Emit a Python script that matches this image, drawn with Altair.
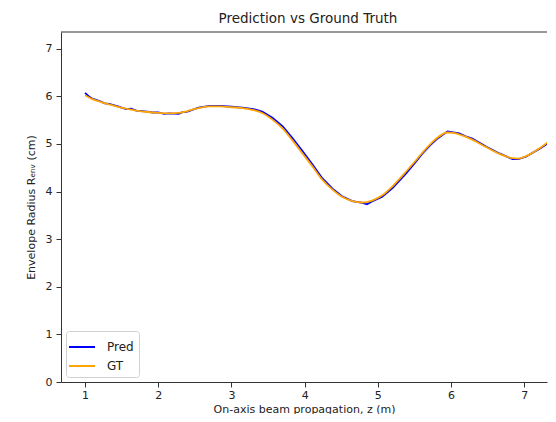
import altair as alt
import pandas as pd

# Ground truth envelope radius (cm) vs z (m)
z_gt = [1.00, 1.10, 1.20, 1.33, 1.45, 1.56, 1.70, 1.85, 2.00, 2.15, 2.28, 2.40,
        2.55, 2.70, 2.85, 3.00, 3.15, 3.30, 3.42, 3.56, 3.70, 3.83, 3.97, 4.11,
        4.24, 4.38, 4.51, 4.65, 4.79, 4.92, 5.06, 5.20, 5.38, 5.50, 5.61, 5.72,
        5.82, 5.95, 6.03, 6.11, 6.29, 6.47, 6.66, 6.84, 6.92, 7.02, 7.20, 7.35, 7.45]
r_gt = [6.02, 5.94, 5.89, 5.83, 5.78, 5.74, 5.70, 5.67, 5.65, 5.64, 5.65, 5.69,
        5.75, 5.79, 5.79, 5.77, 5.75, 5.71, 5.65, 5.51, 5.32, 5.08, 4.80, 4.52,
        4.25, 4.04, 3.89, 3.80, 3.77, 3.81, 3.92, 4.11, 4.41, 4.62, 4.82, 5.00,
        5.14, 5.24, 5.23, 5.20, 5.09, 4.94, 4.79, 4.70, 4.69, 4.74, 4.90, 5.07, 5.20]

# Model prediction (slightly noisy)
z_pred = [1.00, 1.05, 1.10, 1.20, 1.27, 1.33, 1.45, 1.56, 1.63, 1.70, 1.85, 1.92,
          2.00, 2.08, 2.15, 2.28, 2.34, 2.40, 2.55, 2.70, 2.85, 3.00, 3.15, 3.30,
          3.42, 3.56, 3.70, 3.83, 3.97, 4.11, 4.24, 4.38, 4.51, 4.65, 4.79, 4.85,
          4.92, 5.06, 5.20, 5.38, 5.50, 5.61, 5.72, 5.82, 5.95, 6.03, 6.11, 6.20,
          6.29, 6.47, 6.66, 6.84, 6.92, 7.02, 7.20, 7.35, 7.45]
r_pred = [6.07, 6.00, 5.95, 5.90, 5.85, 5.84, 5.79, 5.73, 5.74, 5.70, 5.68, 5.66,
          5.66, 5.63, 5.64, 5.63, 5.67, 5.68, 5.76, 5.80, 5.80, 5.78, 5.76, 5.73,
          5.68, 5.55, 5.37, 5.13, 4.85, 4.56, 4.28, 4.06, 3.90, 3.80, 3.76, 3.73,
          3.79, 3.89, 4.07, 4.37, 4.59, 4.80, 4.98, 5.12, 5.26, 5.24, 5.22, 5.16,
          5.11, 4.95, 4.80, 4.68, 4.68, 4.73, 4.89, 5.04, 5.18]

df_gt = pd.DataFrame({"z": z_gt, "r": r_gt, "series": "GT"})
df_pred = pd.DataFrame({"z": z_pred, "r": r_pred, "series": "Pred"})

series_names = ["Pred", "GT"]
series_colors = ["#0000ff", "#ffa500"]

x_enc = alt.X("z:Q", scale=alt.Scale(domain=[0.672, 7.31], nice=False, zero=False),
              axis=alt.Axis(values=[1, 2, 3, 4, 5, 6, 7], format="d",
                            title="On-axis beam propagation, z (m)"))
y_enc = alt.Y("r:Q", scale=alt.Scale(domain=[0, 7.35], nice=False),
              axis=alt.Axis(values=[0, 1, 2, 3, 4, 5, 6, 7], format="d",
                            title="Envelope Radius Rₑₙᵥ (cm)"))
color_enc = alt.Color("series:N",
                      scale=alt.Scale(domain=series_names, range=series_colors),
                      legend=alt.Legend(title=None, orient="bottom-left", offset=5,
                                        symbolType="M-1.3,0H1.3", symbolSize=400,
                                        symbolStrokeWidth=2, labelFontSize=12,
                                        labelFont="DejaVu Sans", labelColor="#222",
                                        fillColor="white", strokeColor="#d0d0d0",
                                        cornerRadius=3, padding=5, rowPadding=2,
                                        labelOffset=14))

pred_line = alt.Chart(df_pred).mark_line(strokeWidth=1.8, clip=True).encode(
    x=x_enc, y=y_enc, color=color_enc)
gt_line = alt.Chart(df_gt).mark_line(strokeWidth=1.8, interpolate="monotone", clip=True).encode(
    x=x_enc, y=y_enc, color=color_enc)

top_border = alt.Chart(pd.DataFrame({"a": [0]})).mark_rule(color="#333", strokeWidth=1).encode(
    y=alt.value(0), x=alt.value(0), x2=alt.value({"expr": "width"}))

chart = alt.layer(pred_line, gt_line, top_border).properties(
    width=540, height=406,
    title=alt.TitleParams("Prediction vs Ground Truth", fontSize=13.5, font="DejaVu Sans",
                          fontWeight="normal", color="#222", offset=6, dx=4),
    autosize=alt.AutoSizeParams(type="fit", contains="padding"),
    padding={"left": 17, "top": 4, "right": 0, "bottom": 0},
).configure_view(stroke=None).configure_axis(
    grid=False, domainColor="#333", domainWidth=1, tickColor="#333", tickSize=5,
    labelFont="DejaVu Sans", labelFontSize=11, labelColor="#222", labelPadding=3,
    titleFont="DejaVu Sans", titleFontSize=11, titleFontWeight="normal", titleColor="#222",
).configure_axisY(titlePadding=9, labelPadding=4).configure_axisX(titlePadding=3, labelPadding=2)

chart.save("out.html", embed_options={"renderer": "svg", "actions": False})
